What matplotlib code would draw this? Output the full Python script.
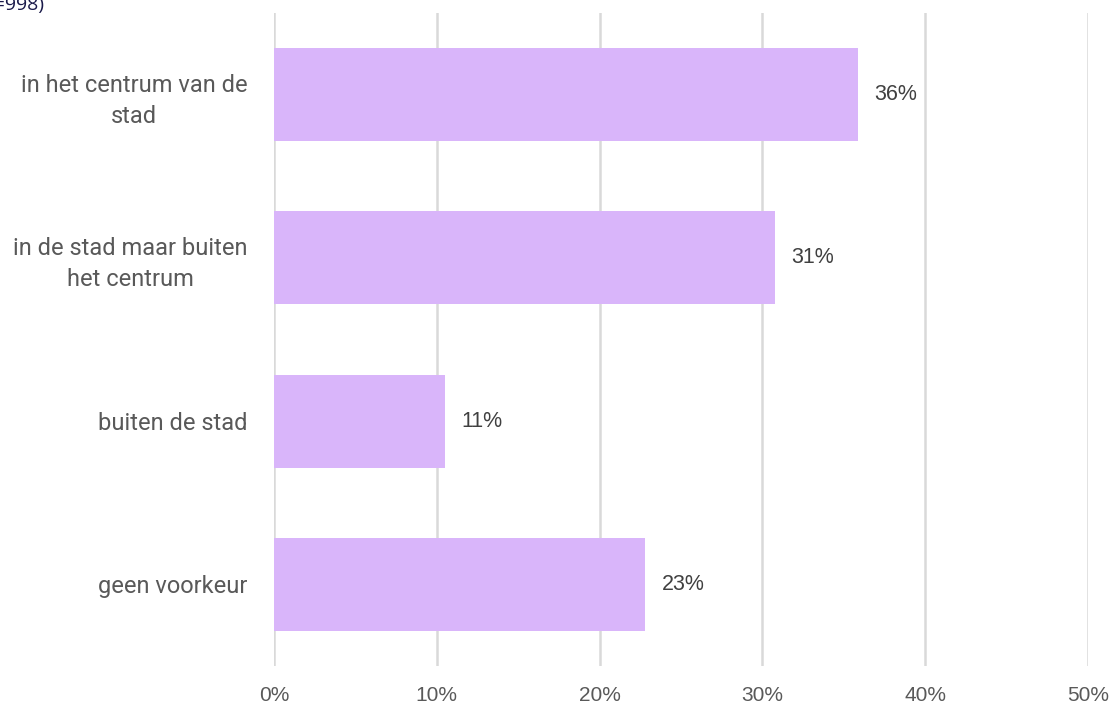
import matplotlib
matplotlib.use('Agg')
import matplotlib.pyplot as plt

# data
categories = ['in het centrum van de\nstad', 'in de stad maar buiten\nhet centrum',
              'buiten de stad', 'geen voorkeur']
values = [35.9, 30.8, 10.5, 22.8]
value_labels = ['36%', '31%', '11%', '23%']
x_ticks = [0, 10, 20, 30, 40, 50]
x_tick_labels = ['0%', '10%', '20%', '30%', '40%', '50%']

fig = plt.figure(figsize=(11.15, 7.06), dpi=100)
ax = fig.add_axes([274 / 1115, 1 - 666 / 706, (1088 - 274) / 1115, (666 - 13) / 706])

pos = list(range(len(categories)))
ax.barh(pos, values, height=0.57, color='#d9b5fa', zorder=3)

for p, v, lab in zip(pos, values, value_labels):
    ax.text(v + 1.0, p, lab, va='center', ha='left', fontsize=15.5,
            family='Liberation Sans', color='#404040', zorder=4)

ax.set_xlim(0, 50)
ax.set_ylim(len(categories) - 0.5, -0.5)
ax.set_xticks(x_ticks)
ax.set_xticklabels(x_tick_labels, family='Liberation Sans', fontsize=15, color='#595959')
ax.set_yticks(pos)
ax.set_yticklabels(categories, family='Roboto', fontsize=17, color='#595959',
                   multialignment='center', linespacing=1.42)
ax.tick_params(axis='both', length=0)
ax.tick_params(axis='x', pad=14.5)
ax.tick_params(axis='y', pad=19)

ax.grid(axis='x', color='#d9d9d9', linewidth=1.8, zorder=0)
ax.grid(axis='y', visible=False)
for s in ax.spines.values():
    s.set_visible(False)

# subtitle, cut off at the top-left edge as in the source image
fig.text(44 / 1115, 1 - 10 / 706, '(n=998)', ha='right', va='baseline',
         fontsize=14, family='Open Sans', color='#1a1a4a')

fig.savefig('out.png', dpi=100)
